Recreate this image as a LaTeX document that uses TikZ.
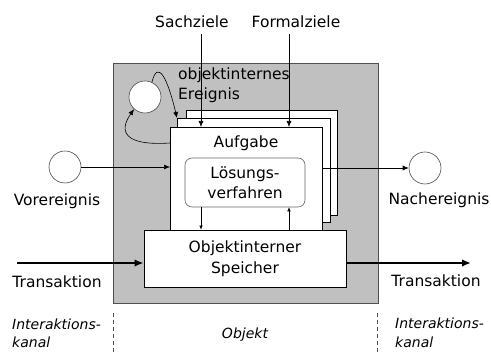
\documentclass[tikz,border=0pt]{standalone}
\usepackage{fontspec}
\setmainfont{DejaVu Sans}
\usetikzlibrary{arrows.meta}
\definecolor{objgray}{HTML}{C0C0C0}
\definecolor{edgegray}{HTML}{505050}
\begin{document}
\begin{tikzpicture}[x=1pt,y=-1pt,
  lbl/.style={font=\fontsize{15.5}{20}\selectfont, inner sep=0pt, align=center},
  ital/.style={font=\fontsize{14}{18.5}\selectfont\itshape, inner sep=0pt, align=left, anchor=west},
  pagebox/.style={draw=black, fill=white, line width=0.6pt, anchor=north west, inner sep=0pt},
  evcirc/.style={circle, draw=black!70, fill=white, line width=0.6pt, minimum size=32pt, inner sep=0pt},
  arr/.style={-{Latex[length=6pt,width=5pt]}, line width=0.6pt},
  thickarr/.style={-{Latex[length=9pt,width=7.5pt]}, line width=2pt},
  sep/.style={dashed, dash pattern=on 4pt off 3pt, line width=0.6pt, draw=black!70}]
\useasboundingbox (0,0) rectangle (491,352);
% object region
\node[draw=edgegray, fill=objgray, line width=0.8pt, minimum width=265pt, minimum height=240pt, anchor=north west, inner sep=0pt] (obj) at (113,63) {};
% stacked task pages
\node[pagebox, minimum width=151pt, minimum height=105pt] (p3) at (186,110) {};
\node[pagebox, minimum width=153pt, minimum height=104pt] (p2) at (177,118) {};
\node[pagebox, minimum width=152pt, minimum height=104pt] (p1) at (170,127) {};
\node[lbl] (aufg) at (246,143) {Aufgabe};
\node[draw=black!60, fill=white, rounded corners=7pt, line width=0.6pt, minimum width=120pt, minimum height=49pt, inner sep=0pt, align=center, font=\fontsize{15.5}{20}\selectfont] (loes) at (245,182.5) {Lösungs-\\verfahren};
% memory
\node[draw=black, fill=white, line width=0.8pt, minimum width=202pt, minimum height=57pt, inner sep=0pt, align=center, font=\fontsize{15.5}{21}\selectfont] (sp) at (245,258.5) {Objektinterner\\Speicher};
% goals
\node[lbl] (sach) at (192,22) {Sachziele};
\node[lbl] (form) at (296,22) {Formalziele};
\coordinate (sx) at (201,0);
\coordinate (fx) at (289,0);
\draw[arr] (sach.south -| sx) ++(0,6) -- (sx |- p1.north);
\draw[arr] (form.south -| fx) ++(0,6) -- (fx |- p1.north);
% internal event
\node[evcirc] (ev) at (145,97) {};
\node[lbl, align=left, anchor=north west] (evt) at (178,68) {objektinternes\\Ereignis};
\coordinate (pl) at (170,143);
\draw[arr] (ev.65) .. controls (158,58) and (168,80) .. (p2.north west);
\draw[arr] (pl) .. controls (125,146) and (118,132) .. (ev.228);
% lösungsverfahren <-> speicher
\coordinate (ax) at (201,0);
\coordinate (bx) at (289,0);
\draw[-{Latex[length=4pt,width=3.5pt]}, line width=0.5pt] (ax |- loes.south) -- (ax |- sp.north);
\draw[-{Latex[length=4pt,width=3.5pt]}, line width=0.5pt] (bx |- sp.north) -- (bx |- loes.south);
% pre / post events
\node[evcirc] (vor) at (65,167) {};
\node[lbl] (vort) at (57,201) {Vorereignis};
\node[evcirc] (nach) at (425,168) {};
\node[lbl] (nacht) at (439,200) {Nachereignis};
\draw[arr] (vor.east) -- (p1.west |- vor.east);
\draw[arr] (p1.east |- nach.west) -- (nach.west);
% transactions
\coordinate (tl) at (17,263);
\coordinate (tr) at (471,263);
\draw[thickarr] (tl) -- (sp.west |- tl);
\draw[thickarr] (sp.east |- tr) -- (tr);
\node[lbl] (trl) at (57,282) {Transaktion};
\node[lbl] (trr) at (436,281) {Transaktion};
% bottom labels
\coordinate (d1t) at (113,313);
\coordinate (d1b) at (113,352);
\coordinate (d2t) at (377,313);
\coordinate (d2b) at (377,352);
\draw[sep] (d1t) -- (d1b);
\draw[sep] (d2t) -- (d2b);
\node[ital] (ikl) at (12,333.5) {Interaktions-\\kanal};
\node[ital] (ikr) at (395,333) {Interaktions-\\kanal};
\node[ital, anchor=center] (objt) at (245,335) {Objekt};
\end{tikzpicture}
\end{document}
